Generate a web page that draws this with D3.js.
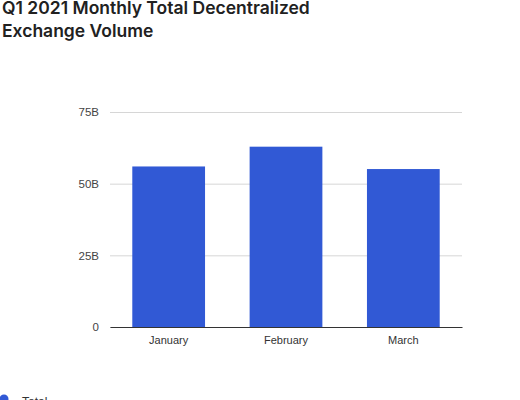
<!DOCTYPE html>
<html>
  <head>
    <meta charset="utf-8">
    <title>Q1 2021 Monthly Total Decentralized Exchange Volume</title>
    <script src="https://d3js.org/d3.v7.min.js"></script>
    <style>
      body {
        margin: 0;
        background: #fff;
      }
      svg {
        display: block;
      }
    </style>
  </head>
<body>
  <script type="text/javascript">
    "use strict";

    // data (billions of USD)
    var months = ["January", "February", "March"];
    var totals = [56.0, 62.9, 55.1];
    var yTicks = [0, 25, 75, 50];
    var titleLines = ["Q1 2021 Monthly Total Decentralized", "Exchange Volume"];
    var seriesName = "Total";

    var width = 520,
        height = 400,
        plotLeft = 110,
        plotRight = 462,
        plotTop = 112,
        plotBottom = 327;

    var svg = d3.select("body")
      .append("svg")
        .attr("width", width)
        .attr("height", height);

    /*
      Title
    */
    svg.append("g")
      .selectAll("text")
      .data(titleLines)
      .join("text")
        .attr("x", 2)
        .attr("y", function(d, i) { return 14 + i * 23; })
        .attr("font-family", "Inter, 'Open Sans', sans-serif")
        .attr("font-weight", 600)
        .attr("font-size", 17.5)
        .attr("fill", "#212121")
        .text(function(d) { return d; });

    /*
      Scales
    */
    var x = d3.scaleBand()
      .domain(months)
      .range([plotLeft, plotRight])
      .paddingInner(0.38)
      .paddingOuter(0.19);

    var y = d3.scaleLinear()
      .domain([0, 75])
      .range([plotBottom, plotTop]);

    // gridlines and y labels
    var yAxis = svg.append("g")
      .attr("transform", "translate(" + plotLeft + ",0)")
      .call(d3.axisLeft(y)
        .tickValues(yTicks)
        .tickSize(-(plotRight - plotLeft))
        .tickPadding(11)
        .tickFormat(function(d) { return d === 0 ? "0" : d + "B"; }));
    yAxis.select(".domain").remove();
    yAxis.selectAll(".tick line")
      .attr("stroke", "#d6d6d6")
      .attr("stroke-width", 1);
    yAxis.selectAll(".tick text")
      .attr("font-family", "'Liberation Sans', Arial, sans-serif")
      .attr("font-size", 11.5)
      .attr("fill", "#444");

    // bars
    svg.append("g")
      .selectAll("rect")
      .data(totals)
      .join("rect")
        .attr("x", function(d, i) { return x(months[i]); })
        .attr("y", function(d) { return y(d); })
        .attr("width", x.bandwidth())
        .attr("height", function(d) { return y(0) - y(d); })
        .attr("fill", "#3159d5");

    // baseline and month labels
    var xAxis = svg.append("g")
      .attr("transform", "translate(0," + plotBottom + ")")
      .call(d3.axisBottom(x).tickSize(0).tickPadding(9));
    xAxis.select(".domain")
      .attr("stroke", "#333")
      .attr("stroke-width", 1);
    xAxis.selectAll(".tick text")
      .attr("font-family", "'Liberation Sans', Arial, sans-serif")
      .attr("font-size", 11)
      .attr("fill", "#333");

    /*
      Legend (cut off at the bottom edge)
    */
    var legend = svg.append("g");
    legend.append("circle")
      .attr("cx", 4)
      .attr("cy", 399)
      .attr("r", 4.5)
      .attr("fill", "#3159d5");
    legend.append("text")
      .attr("x", 22)
      .attr("y", 406)
      .attr("font-family", "'Liberation Sans', Arial, sans-serif")
      .attr("font-size", 12)
      .attr("fill", "#333")
      .text(seriesName);
  </script>
</body>
</html>
